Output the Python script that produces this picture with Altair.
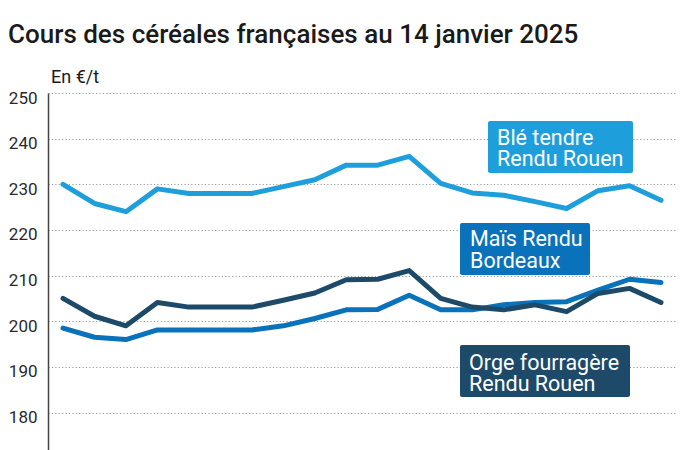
import altair as alt
import pandas as pd

# Data
semaines = list(range(1, 21))
ble = [230.0, 225.8, 224.0, 229.0, 228.0, 228.0, 228.0, 229.5, 231.0, 234.2,
       234.2, 236.1, 230.2, 228.1, 227.6, 226.2, 224.7, 228.6, 229.7, 226.5]
mais = [198.5, 196.5, 196.0, 198.1, 198.1, 198.1, 198.1, 199.0, 200.6, 202.5,
        202.6, 205.7, 202.5, 202.5, 203.6, 204.1, 204.3, 206.8, 209.2, 208.5]
orge = [205.0, 201.1, 199.0, 204.1, 203.1, 203.1, 203.1, 204.6, 206.2, 209.1,
        209.2, 211.1, 205.0, 203.1, 202.5, 203.6, 202.1, 206.1, 207.2, 204.1]
series = ["Blé tendre Rendu Rouen", "Maïs Rendu Bordeaux", "Orge fourragère Rendu Rouen"]
colors = ["#1E9FDB", "#0A72BA", "#1D4A68"]
y_ticks = [180, 190, 200, 210, 220, 230, 240, 250]

rows = []
for name, vals in zip(series, [ble, mais, orge]):
    for s, v in zip(semaines, vals):
        rows.append({"semaine": s, "prix": v, "serie": name})
df = pd.DataFrame(rows)

FONT = "Roboto"

lines = alt.Chart(df).mark_line(strokeWidth=5, strokeCap="round", strokeJoin="round").encode(
    x=alt.X("semaine:Q", scale=alt.Scale(domain=[0.523, 20.445], nice=False, zero=False), axis=None),
    y=alt.Y("prix:Q", scale=alt.Scale(domain=[171.8, 250], nice=False, zero=False),
            axis=alt.Axis(values=y_ticks, title=None, grid=True, gridDash=[1.2, 2.2],
                          gridColor="#9a9a9a", gridWidth=1, ticks=False, domain=True,
                          domainColor="#444444", domainWidth=1.5, labelFont=FONT,
                          labelFontSize=17, labelColor="#2a2a2a", labelPadding=11,
                          labelBaseline="middle", labelOffset=5, labelFlush=False)),
    color=alt.Color("serie:N", scale=alt.Scale(domain=series, range=colors), legend=None),
    order=alt.Order("semaine:Q"),
)

one = alt.Data(values=[{}])


def label_box(x0, x1, y0, y1, fill, text, tx, ty):
    rect = alt.Chart(one).mark_rect(color=fill, cornerRadius=2).encode(
        x=alt.value(x0), x2=alt.value(x1), y=alt.value(y0), y2=alt.value(y1))
    txt = alt.Chart(one).mark_text(align="left", baseline="alphabetic", font=FONT,
                                   fontSize=21.5, color="white", lineHeight=21.6).encode(
        x=alt.value(tx), y=alt.value(ty), text=alt.value(text))
    return rect + txt


b1 = label_box(440, 585, 28, 80, colors[0], ["Blé tendre", "Rendu Rouen"], 449, 51.5)
b2 = label_box(412, 542, 130, 182, colors[1], ["Maïs Rendu", "Bordeaux"], 422, 153)
b3 = label_box(412, 582, 252, 304, colors[2], ["Orge fourragère", "Rendu Rouen"], 421, 276.5)

title = alt.Chart(one).mark_text(align="left", baseline="alphabetic", font=FONT,
                                 fontSize=26, fontWeight=500, color="#1a1a1a").encode(
    x=alt.value(-40), y=alt.value(-50),
    text=alt.value("Cours des céréales françaises au 14 janvier 2025"))
unit = alt.Chart(one).mark_text(align="left", baseline="alphabetic", font=FONT,
                                fontSize=18, color="#1a1a1a").encode(
    x=alt.value(3), y=alt.value(-10), text=alt.value("En €/t"))

chart = alt.layer(lines, b1, b2, b3, title, unit).properties(
    width=627, height=357,
    autosize=alt.AutoSizeParams(type="none"),
    padding={"left": 48, "top": 93, "right": 25, "bottom": 0},
    background="white",
).configure_view(stroke=None)

chart.save("out.html", embed_options={"renderer": "svg", "actions": False})
